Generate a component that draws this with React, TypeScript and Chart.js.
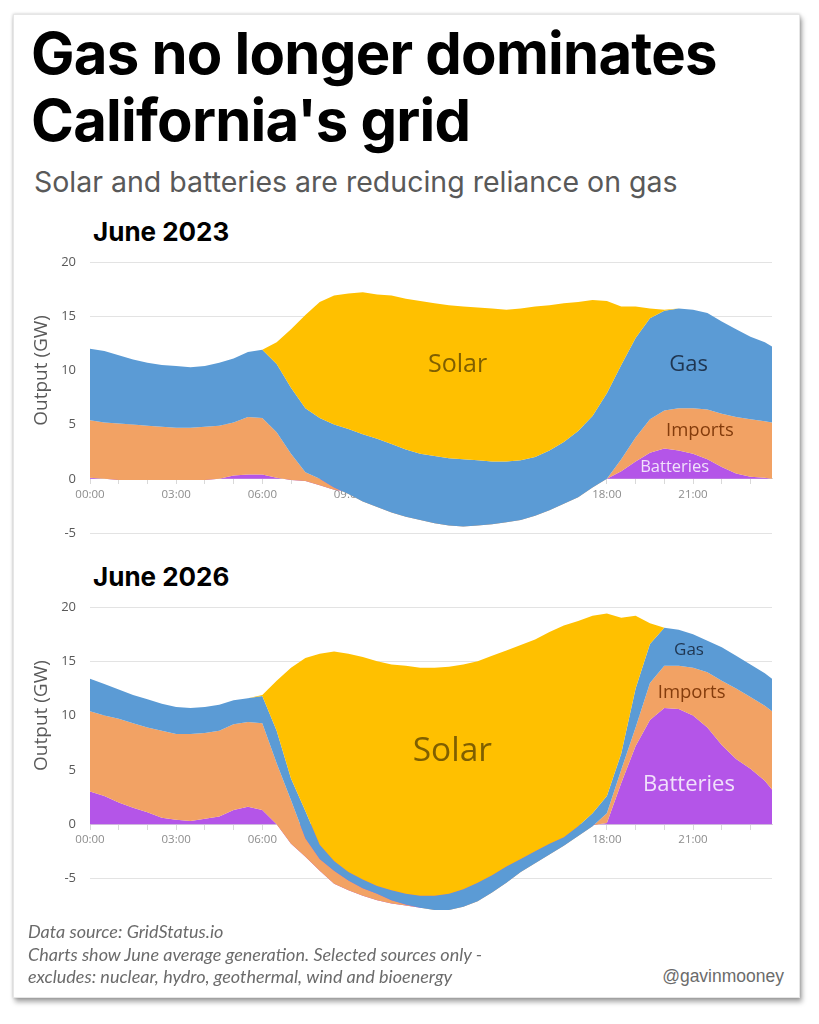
import { useEffect, useRef } from 'react'
import { Chart, registerables } from 'chart.js'

Chart.register(...registerables)

// half-hour steps, last sample at 23:45
const HOURS = [
  0, 0.5, 1, 1.5, 2, 2.5, 3, 3.5, 4, 4.5, 5, 5.5, 6, 6.5, 7, 7.5, 8, 8.5, 9, 9.5,
  10, 10.5, 11, 11.5, 12, 12.5, 13, 13.5, 14, 14.5, 15, 15.5, 16, 16.5, 17, 17.5,
  18, 18.5, 19, 19.5, 20, 20.5, 21, 21.5, 22, 22.5, 23, 23.5, 23.75,
]

// June 2023 (GW)
const BATTERIES_2023 = [
  0.1, 0.0, -0.1, -0.1, -0.1, -0.1, -0.1, -0.1, -0.1, 0.0, 0.3, 0.4, 0.4,
  0.1, -0.1, -0.2, -0.6, -1.0, -1.2, -1.3, -1.4, -1.4, -1.5,
  -1.5, -1.5, -1.5, -1.5, -1.5, -1.5, -1.5, -1.4, -1.4, -1.3, -1.2, -1.0, -0.5, 0.0,
  0.7, 1.6, 2.4, 2.8, 2.6, 2.3, 1.8, 1.1, 0.5, 0.2, 0.1, 0.0,
]
const IMPORTS_2023 = [
  5.3, 5.2, 5.2, 5.1, 5.0, 4.9, 4.8, 4.8, 4.9, 4.9, 4.9, 5.3, 5.2,
  4.2, 2.4, 0.8, 0.6, 0.2, -0.2, -0.8, -1.2, -1.7, -2.0,
  -2.3, -2.6, -2.8, -2.9, -2.8, -2.7, -2.5, -2.4, -2.0, -1.6, -1.1, -0.7, -0.3, 0.0,
  1.1, 2.2, 3.1, 3.5, 3.9, 4.2, 4.6, 4.9, 5.2, 5.3, 5.2, 5.2,
]
const GAS_2023 = [
  6.6, 6.6, 6.3, 6.0, 5.8, 5.7, 5.7, 5.6, 5.6, 5.8, 5.9, 6.0, 6.3,
  6.3, 6.1, 5.9, 5.6, 5.8, 6.0, 6.2, 6.3, 6.3, 6.2,
  6.1, 6.2, 6.2, 6.2, 6.0, 5.8, 5.6, 5.5, 5.4, 5.5, 5.7, 6.1, 6.6, 7.9,
  8.7, 9.2, 9.3, 9.2, 9.2, 9.1, 8.9, 8.5, 8.1, 7.6, 7.3, 7.0,
]
const SOLAR_2023 = [
  0, 0, 0, 0, 0, 0, 0, 0, 0, 0, 0, 0, 0,
  2.0, 5.4, 8.6, 10.7, 11.9, 12.5, 13.1, 13.3, 13.7, 13.9,
  14.1, 14.1, 14.1, 14.1, 14.1, 14.1, 14.0, 14.0, 13.9, 13.4, 12.8, 11.9, 10.7, 8.5,
  5.4, 2.9, 0.9, 0.1, 0, 0, 0, 0, 0, 0, 0, 0,
]

// June 2026 (GW)
const BATTERIES_2026 = [
  3.0, 2.6, 2.0, 1.5, 1.1, 0.6, 0.4, 0.3, 0.5, 0.7, 1.3, 1.6, 1.3,
  0.0, -1.8, -3.0, -4.3, -5.5, -6.1, -6.6, -7.0, -7.3, -7.5,
  -7.7, -7.8, -7.6, -7.2, -6.6, -5.9, -5.0, -4.1, -3.3, -2.5, -1.8, -1.0, -0.1, 0.1,
  3.8, 7.2, 9.6, 10.7, 10.6, 10.0, 8.9, 7.3, 6.0, 5.1, 4.0, 3.2,
]
const IMPORTS_2026 = [
  7.4, 7.4, 7.7, 7.8, 7.8, 8.0, 7.9, 8.0, 7.9, 7.9, 7.9, 7.8, 8.0,
  5.6, 4.0, 1.7, 1.1, 1.2, 0.9, 0.7, 0.6, 0.3, 0.1,
  0.0, -0.1, -0.3, -0.4, -0.5, -0.4, -0.4, -0.3, -0.3, -0.3, -0.2, -0.1, -0.1, 0.9,
  1.2, 1.7, 3.4, 3.9, 4.0, 4.4, 5.1, 5.9, 6.5, 6.6, 6.9, 7.2,
]
const GAS_2026 = [
  3.0, 2.9, 2.7, 2.6, 2.6, 2.5, 2.5, 2.4, 2.4, 2.4, 2.2, 2.2, 2.5,
  3.0, 2.0, 2.5, 1.3, 0.9, 0.8, 0.8, 0.7, 0.9, 1.0,
  1.1, 1.3, 1.5, 1.6, 1.7, 1.6, 1.5, 1.2, 1.1, 1.0, 0.8, 0.9, 1.2, 1.6,
  1.5, 3.6, 3.6, 3.5, 3.3, 3.1, 2.9, 3.1, 3.0, 3.0, 3.0, 3.0,
]
const SOLAR_2026 = [
  0, 0, 0, 0, 0, 0, 0, 0, 0, 0, 0, 0, 0.1,
  4.6, 10.2, 14.1, 17.6, 19.3, 20.1, 20.5, 20.7, 20.8, 21.0,
  21.0, 21.0, 20.9, 20.7, 20.4, 20.2, 19.9, 19.7, 19.5, 19.5, 19.5, 18.9, 18.2, 16.8,
  12.5, 6.7, 1.9, 0, 0, 0, 0, 0, 0, 0, 0, 0,
]

const Y_TICK_STEP = 5
const X_LABEL_EVERY = 3

const COLORS = {
  solar: '#FFC000',
  gas: '#5B9BD5',
  imports: '#F2A264',
  batteries: '#B455E8',
}

interface AreaLabel {
  text: string
  hour: number
  value: number
  size: number
  color: string
}

interface GridChartProps {
  batteries: number[]
  imports: number[]
  gas: number[]
  solar: number[]
  yMin: number
  yMax: number
  labels: AreaLabel[]
}

const FONT = '"Open Sans", sans-serif'

function GridChart({ batteries, imports, gas, solar, yMin, yMax, labels }: GridChartProps) {
  const canvasRef = useRef<HTMLCanvasElement>(null)
  const chartRef = useRef<Chart | null>(null)

  useEffect(() => {
    if (!canvasRef.current) return

    // Excel-style stacking: every series adds on the running total, negatives included,
    // and each band is painted over the ones below it.
    const layers = [batteries, imports, gas, solar]
    const totals: number[][] = []
    layers.forEach((series, k) => {
      totals.push(series.map((v, i) => (k === 0 ? v : totals[k - 1][i] + v)))
    })
    const pts = (vals: number[]) => vals.map((y, i) => ({ x: HOURS[i], y }))

    const areaLabels = {
      id: 'areaLabels',
      afterDatasetsDraw(chart: Chart) {
        const { ctx, scales } = chart
        ctx.save()
        ctx.textAlign = 'center'
        ctx.textBaseline = 'middle'
        labels.forEach((l) => {
          ctx.font = `${l.size}px ${FONT}`
          ctx.fillStyle = l.color
          ctx.fillText(l.text, scales.x.getPixelForValue(l.hour), scales.y.getPixelForValue(l.value))
        })
        // axis title, centred on the 0..20 range
        ctx.translate(22, scales.y.getPixelForValue(10))
        ctx.rotate(-Math.PI / 2)
        ctx.font = `19px ${FONT}`
        ctx.fillStyle = '#595959'
        ctx.fillText('Output (GW)', 0, 0)
        ctx.restore()
      },
    }

    chartRef.current = new Chart(canvasRef.current, {
      type: 'line',
      data: {
        datasets: [
          { label: 'Solar', data: pts(totals[3]), backgroundColor: COLORS.solar, fill: '+1' },
          { label: 'Gas', data: pts(totals[2]), backgroundColor: COLORS.gas, fill: '+1' },
          { label: 'Imports', data: pts(totals[1]), backgroundColor: COLORS.imports, fill: '+1' },
          { label: 'Batteries', data: pts(totals[0]), backgroundColor: COLORS.batteries, fill: 'origin' },
        ],
      },
      options: {
        responsive: true,
        maintainAspectRatio: false,
        animation: false,
        layout: { padding: { top: 22, bottom: 22, left: 0, right: 18 } },
        elements: {
          point: { radius: 0 },
          line: { borderWidth: 0, borderColor: 'transparent', tension: 0 },
        },
        plugins: {
          legend: { display: false },
          tooltip: { enabled: false },
        },
        scales: {
          x: {
            type: 'linear',
            min: 0,
            max: 23.75,
            position: { y: 0 },
            z: 1,
            grid: { drawOnChartArea: false, color: '#d9d9d9', tickLength: 5 },
            border: { display: true, color: '#d9d9d9' },
            ticks: {
              stepSize: 1,
              includeBounds: false,
              autoSkip: false,
              maxRotation: 0,
              padding: 4,
              color: '#8c8c8c',
              font: { family: FONT, size: 11.5 },
              callback: (v) =>
                Number(v) % X_LABEL_EVERY === 0 ? `${String(v).padStart(2, '0')}:00` : '',
            },
          },
          y: {
            min: yMin,
            max: yMax,
            afterFit: (scale) => {
              scale.width = 70
            },
            grid: { color: '#e3e3e3', drawTicks: false },
            border: { display: false },
            ticks: {
              stepSize: Y_TICK_STEP,
              includeBounds: false,
              padding: 14,
              color: '#595959',
              font: { family: FONT, size: 13 },
            },
          },
        },
      },
      plugins: [areaLabels],
    })

    return () => {
      if (chartRef.current) chartRef.current.destroy()
    }
  }, [batteries, imports, gas, solar, yMin, yMax, labels])

  return <canvas ref={canvasRef}></canvas>
}

const LABELS_2023: AreaLabel[] = [
  { text: 'Solar', hour: 12.8, value: 10.5, size: 25, color: '#7f5f00' },
  { text: 'Gas', hour: 20.85, value: 10.5, size: 22, color: '#1f3550' },
  { text: 'Imports', hour: 21.24, value: 4.4, size: 18.5, color: '#843c0c' },
  { text: 'Batteries', hour: 20.36, value: 1.1, size: 16.5, color: '#f1e1fb' },
]

const LABELS_2026: AreaLabel[] = [
  { text: 'Solar', hour: 12.62, value: 6.7, size: 33.5, color: '#7f5f00' },
  { text: 'Gas', hour: 20.86, value: 16.0, size: 17, color: '#1f3550' },
  { text: 'Imports', hour: 20.95, value: 12.1, size: 18.5, color: '#843c0c' },
  { text: 'Batteries', hour: 20.86, value: 3.6, size: 22, color: '#f1e1fb' },
]

export default function App() {
  const abs = (left: number, top: number, extra: React.CSSProperties = {}): React.CSSProperties => ({
    position: 'absolute',
    left,
    top,
    margin: 0,
    whiteSpace: 'nowrap',
    ...extra,
  })

  return (
    <div style={{ position: 'absolute', left: 0, top: 0, width: 819, height: 1024, background: '#fff', overflow: 'hidden' }}>
      <div
        style={{
          position: 'absolute',
          left: 13,
          top: 14,
          width: 785,
          height: 982,
          background: '#fff',
          border: '1px solid #e6e6e6',
          boxShadow: '0 0 3px rgba(0,0,0,0.2), 2px 4px 5px rgba(0,0,0,0.35)',
        }}
      />
      <div style={abs(31, 20, { fontFamily: 'Inter', fontWeight: 700, fontSize: 58, lineHeight: '67px', letterSpacing: -0.75, color: '#000' })}>
        Gas no longer dominates
        <br />
        California's grid
      </div>
      <div style={abs(34, 166, { fontFamily: 'Inter', fontSize: 28.5, lineHeight: '32px', color: '#595959' })}>
        Solar and batteries are reducing reliance on gas
      </div>
      <div style={abs(93, 217, { fontFamily: 'Inter', fontWeight: 700, fontSize: 26, lineHeight: '30px', color: '#000' })}>
        June 2023
      </div>
      <div style={abs(93, 562, { fontFamily: 'Inter', fontWeight: 700, fontSize: 26, lineHeight: '30px', color: '#000' })}>
        June 2026
      </div>

      <div style={{ position: 'absolute', left: 20, top: 240, width: 770, height: 315 }}>
        <GridChart
          batteries={BATTERIES_2023}
          imports={IMPORTS_2023}
          gas={GAS_2023}
          solar={SOLAR_2023}
          yMin={-5}
          yMax={20}
          labels={LABELS_2023}
        />
      </div>
      <div style={{ position: 'absolute', left: 20, top: 585, width: 770, height: 348 }}>
        <GridChart
          batteries={BATTERIES_2026}
          imports={IMPORTS_2026}
          gas={GAS_2026}
          solar={SOLAR_2026}
          yMin={-8}
          yMax={20}
          labels={LABELS_2026}
        />
      </div>

      <div style={abs(28, 920, { fontFamily: 'Lato', fontStyle: 'italic', fontSize: 18, lineHeight: '22.5px', color: '#6b6b6b' })}>
        Data source: GridStatus.io
        <br />
        Charts show June average generation. Selected sources only -
        <br />
        excludes: nuclear, hydro, geothermal, wind and bioenergy
      </div>
      <div style={{ position: 'absolute', right: 35, top: 966, fontFamily: '"Liberation Sans", Arial, sans-serif', fontSize: 17.5, lineHeight: '20px', color: '#6b6b6b' }}>
        @gavinmooney
      </div>
    </div>
  )
}
